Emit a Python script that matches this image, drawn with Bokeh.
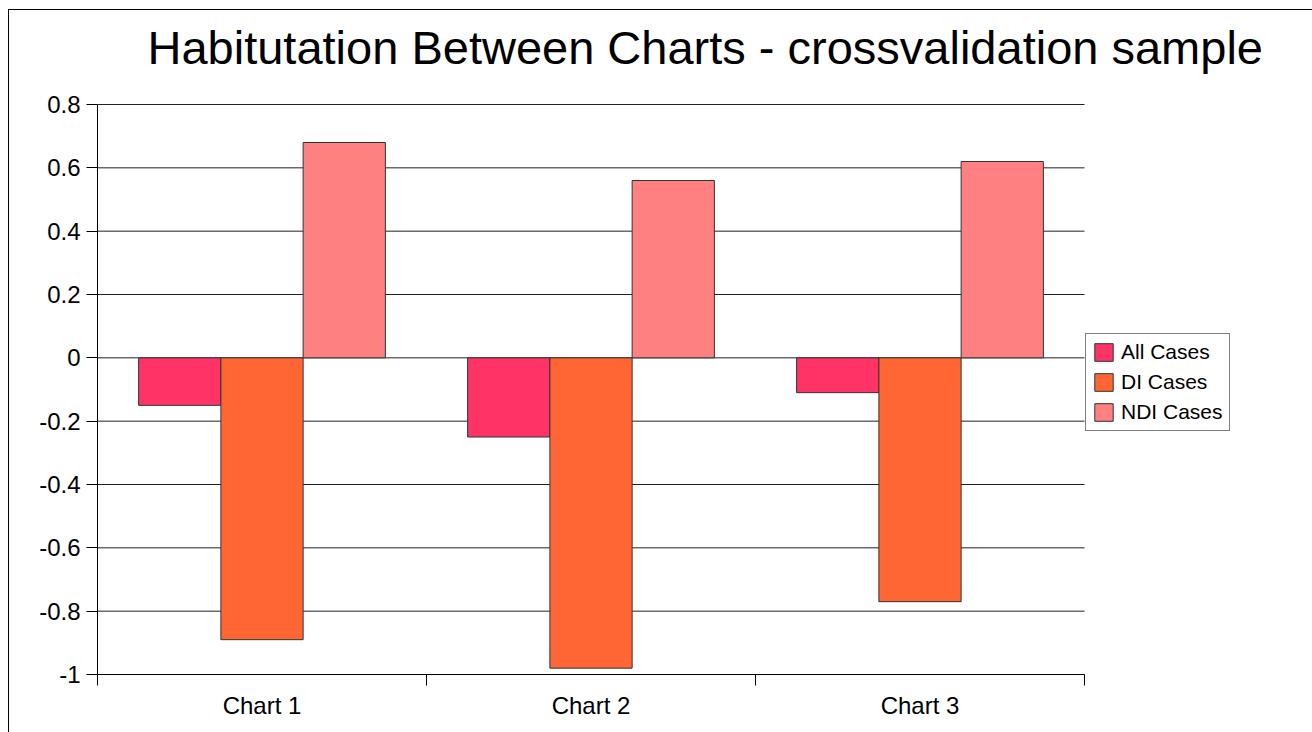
from bokeh.plotting import figure
from bokeh.models import (ColumnDataSource, FixedTicker, Range1d, Legend, LegendItem, Label)
from bokeh.transform import dodge
from bokeh.embed import file_html
from bokeh.resources import INLINE

# ---- data ----
categories = ["Chart 1", "Chart 2", "Chart 3"]
all_cases = [-0.15, -0.25, -0.11]
di_cases = [-0.89, -0.98, -0.77]
ndi_cases = [0.68, 0.56, 0.62]
series_names = ["All Cases", "DI Cases", "NDI Cases"]
series_colors = ["#FF3366", "#FF6633", "#FF8080"]
y_ticks = [-1.0, -0.8, -0.6, -0.4, -0.2, 0.0, 0.2, 0.4, 0.6, 0.8]
y_tick_labels = ["-1", "-0.8", "-0.6", "-0.4", "-0.2", "0", "0.2", "0.4", "0.6", "0.8"]
title_text = "Habitutation Between Charts - crossvalidation sample"

FONT = "Liberation Sans"

# ---- layout constants (pixels) ----
W, H = 1304, 723
LEFT, BOTTOM = 88, 59
FRAME_W, FRAME_H = W - LEFT, H - BOTTOM
PLOT_W, PLOT_H = 987, 570          # the visible plot area (axes extent)

n = len(categories)
x_end = n * FRAME_W / PLOT_W
y_end = y_ticks[0] + (y_ticks[-1] - y_ticks[0]) * FRAME_H / PLOT_H

x_centers = [i + 0.5 for i in range(n)]
x_bounds = list(range(n + 1))
src = ColumnDataSource(dict(x=x_centers, all=all_cases, di=di_cases, ndi=ndi_cases))
grid_src = ColumnDataSource(dict(y=y_ticks, x0=[0] * len(y_ticks), x1=[n] * len(y_ticks)))

p = figure(width=W, height=H,
           x_range=Range1d(0, x_end), y_range=Range1d(y_ticks[0], y_end),
           output_backend="svg", toolbar_location=None,
           min_border_left=LEFT, min_border_right=0, min_border_top=0, min_border_bottom=BOTTOM)
p.margin = (9, 0, 0, 8)
p.styles = {"border-left": "1px solid black", "border-top": "1px solid black"}
p.outline_line_color = None
p.background_fill_color = "white"
p.border_fill_color = "white"
p.xgrid.grid_line_color = None
p.ygrid.grid_line_color = None

# horizontal gridlines limited to the category extent
p.segment(x0="x0", x1="x1", y0="y", y1="y", source=grid_src, line_color="#222222", line_width=1)

cols = ["all", "di", "ndi"]
offsets = [-0.25, 0.0, 0.25]
renderers = []
for col, off, color in zip(cols, offsets, series_colors):
    r = p.vbar(x=dodge("x", off, range=p.x_range), top=col, bottom=0, width=0.25, source=src,
               fill_color=color, line_color="#333333", line_width=1)
    renderers.append(r)

# x axis: labels at centres, tick marks at category boundaries
xa = p.xaxis[0]
xa.bounds = (0, n)
xa.ticker = FixedTicker(ticks=x_centers, minor_ticks=x_bounds)
xa.major_label_overrides = {xc: c for xc, c in zip(x_centers, categories)}
xa.major_tick_out = 0
xa.major_tick_in = 0
xa.minor_tick_out = 11
xa.minor_tick_in = 0
xa.minor_tick_line_color = "black"
xa.axis_line_color = "black"
xa.major_label_text_font = FONT
xa.major_label_text_font_size = "24px"
xa.major_label_text_color = "black"
xa.major_label_standoff = 6

ya = p.yaxis[0]
ya.bounds = (y_ticks[0], y_ticks[-1])
ya.ticker = FixedTicker(ticks=y_ticks, minor_ticks=[])
ya.major_label_overrides = {v: s for v, s in zip(y_ticks, y_tick_labels)}
ya.major_tick_out = 11
ya.major_tick_in = 0
ya.major_tick_line_color = "black"
ya.axis_line_color = "black"
ya.major_label_text_font = FONT
ya.major_label_text_font_size = "24px"
ya.major_label_text_color = "black"
ya.major_label_standoff = 6

# title
p.add_layout(Label(text=title_text, x=50, y=FRAME_H - 37, x_units="screen", y_units="screen",
                   text_font=FONT, text_font_size="47px", text_color="black",
                   text_baseline="alphabetic", text_align="left"))

legend = Legend(items=[LegendItem(label=nm, renderers=[r]) for nm, r in zip(series_names, renderers)],
                location=(PLOT_W + 1, 243), orientation="vertical",
                label_text_font=FONT, label_text_font_size="21px", label_text_color="black",
                glyph_width=23, glyph_height=22, label_height=22, spacing=6,
                padding=6, margin=0, label_standoff=6,
                border_line_color="black", border_line_width=1,
                background_fill_color="white", background_fill_alpha=1.0)
p.add_layout(legend)

open("out.html", "w").write(file_html(p, INLINE))
